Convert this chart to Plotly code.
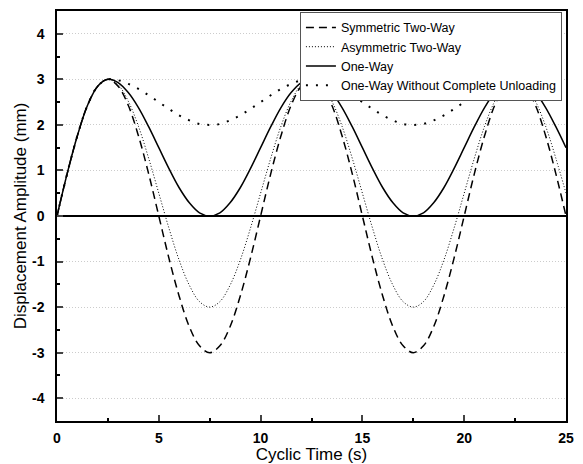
import plotly.graph_objects as go

# Cyclic time (s), sampled every 0.5 s
time_s = [i * 0.5 for i in range(51)]

symmetric_two_way = [
    0.00, 0.93, 1.76, 2.43, 2.85, 3.00, 2.85, 2.43, 1.76, 0.93,
    0.00, -0.93, -1.76, -2.43, -2.85, -3.00, -2.85, -2.43, -1.76, -0.93,
    0.00, 0.93, 1.76, 2.43, 2.85, 3.00, 2.85, 2.43, 1.76, 0.93,
    0.00, -0.93, -1.76, -2.43, -2.85, -3.00, -2.85, -2.43, -1.76, -0.93,
    0.00, 0.93, 1.76, 2.43, 2.85, 3.00, 2.85, 2.43, 1.76, 0.93,
    0.00,
]

asymmetric_two_way = [
    0.00, 0.93, 1.76, 2.43, 2.85, 3.00, 2.88, 2.52, 1.97, 1.27,
    0.50, -0.27, -0.97, -1.52, -1.88, -2.00, -1.88, -1.52, -0.97, -0.27,
    0.50, 1.27, 1.97, 2.52, 2.88, 3.00, 2.88, 2.52, 1.97, 1.27,
    0.50, -0.27, -0.97, -1.52, -1.88, -2.00, -1.88, -1.52, -0.97, -0.27,
    0.50, 1.27, 1.97, 2.52, 2.88, 3.00, 2.88, 2.52, 1.97, 1.27,
    0.50,
]

one_way = [
    0.00, 0.93, 1.76, 2.43, 2.85, 3.00, 2.93, 2.71, 2.38, 1.96,
    1.50, 1.04, 0.62, 0.29, 0.07, 0.00, 0.07, 0.29, 0.62, 1.04,
    1.50, 1.96, 2.38, 2.71, 2.93, 3.00, 2.93, 2.71, 2.38, 1.96,
    1.50, 1.04, 0.62, 0.29, 0.07, 0.00, 0.07, 0.29, 0.62, 1.04,
    1.50, 1.96, 2.38, 2.71, 2.93, 3.00, 2.93, 2.71, 2.38, 1.96,
    1.50,
]

one_way_partial = [
    0.00, 0.93, 1.76, 2.43, 2.85, 3.00, 2.98, 2.90, 2.79, 2.65,
    2.50, 2.35, 2.21, 2.10, 2.02, 2.00, 2.02, 2.10, 2.21, 2.35,
    2.50, 2.65, 2.79, 2.90, 2.98, 3.00, 2.98, 2.90, 2.79, 2.65,
    2.50, 2.35, 2.21, 2.10, 2.02, 2.00, 2.02, 2.10, 2.21, 2.35,
    2.50, 2.65, 2.79, 2.90, 2.98, 3.00, 2.98, 2.90, 2.79, 2.65,
    2.50,
]

x_ticks = [0, 5, 10, 15, 20, 25]
y_ticks = [-4, -3, -2, -1, 0, 1, 2, 3, 4]
y_tick_labels = ["-4", "-3", "-2", "-1", "0", "1", "2", "3", "4"]

FONT = "Liberation Sans, Arial, sans-serif"

fig = go.Figure()
fig.add_trace(go.Scatter(x=time_s, y=symmetric_two_way, mode="lines",
                         name="Symmetric Two-Way", line_shape="spline",
                         line=dict(color="black", width=1.5, dash="8px,5px")))
fig.add_trace(go.Scatter(x=time_s, y=asymmetric_two_way, mode="lines",
                         name="Asymmetric Two-Way", line_shape="spline",
                         line=dict(color="black", width=1, dash="1px,2px")))
fig.add_trace(go.Scatter(x=time_s, y=one_way, mode="lines",
                         name="One-Way", line_shape="spline",
                         line=dict(color="black", width=1.5)))
fig.add_trace(go.Scatter(x=time_s, y=one_way_partial, mode="lines",
                         name="One-Way Without Complete Unloading", line_shape="spline",
                         line=dict(color="black", width=2, dash="2px,8px")))

fig.update_layout(
    width=583, height=464,
    margin=dict(l=57, r=17, t=11, b=43),
    paper_bgcolor="white", plot_bgcolor="white",
    font=dict(family=FONT, color="black"),
    showlegend=True,
    legend=dict(x=0.992, y=0.998, xanchor="right", yanchor="top",
                bgcolor="white", bordercolor="#555555", borderwidth=1,
                font=dict(size=12.5, family=FONT), itemwidth=30,
                tracegroupgap=0),
)
fig.update_xaxes(
    range=[0, 25], tickvals=x_ticks, ticks="inside", ticklen=6, tickwidth=1.5,
    showline=True, linecolor="black", linewidth=1.5, mirror=True,
    showgrid=False, zeroline=False, automargin=False, ticklabelstandoff=3,
    minor=dict(ticks="inside", ticklen=3, dtick=2.5, tick0=0, tickcolor="black"),
    tickfont=dict(size=14, family=FONT, weight="bold"),
    title=dict(text="Cyclic Time (s)", font=dict(size=17, family=FONT), standoff=3),
)
fig.update_yaxes(
    range=[-4.5, 4.5], tickvals=y_ticks, ticktext=y_tick_labels,
    ticks="inside", ticklen=6, tickwidth=1.5,
    showline=True, linecolor="black", linewidth=1.5, mirror=True,
    showgrid=True, gridcolor="#cccccc", griddash="1px,2px", gridwidth=1,
    zeroline=True, zerolinecolor="black", zerolinewidth=1.5,
    automargin=False, ticklabelstandoff=8,
    minor=dict(ticks="inside", ticklen=3, dtick=0.5, tick0=0, tickcolor="black", showgrid=False),
    tickfont=dict(size=14, family=FONT, weight="bold"),
    title=dict(text="Displacement Amplitude (mm)", font=dict(size=17, family=FONT), standoff=1),
)

fig.write_html("out.html", config={"displayModeBar": False},
               post_script="document.body.style.margin='0px';")
